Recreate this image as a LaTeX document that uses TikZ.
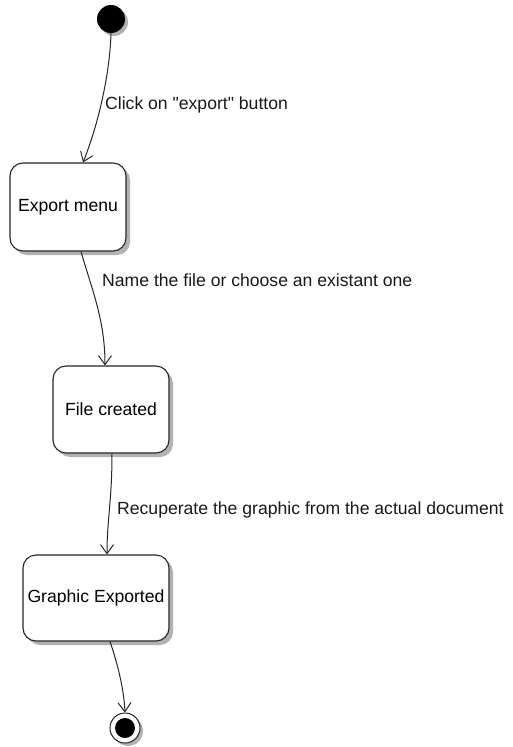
\documentclass[tikz,border=0pt]{standalone}
\usepackage{fontspec}
\setmainfont{Liberation Sans}[Ligatures=TeXOff]
\usetikzlibrary{arrows.meta,shadows,calc}
\begin{document}
\begin{tikzpicture}[x=1pt,y=-1pt,
  every node/.style={font=\fontsize{17.6}{20}\selectfont},
  shad/.style={drop shadow={shadow xshift=4pt,shadow yshift=-4pt,fill=black!30,opacity=1}},
  state/.style={draw=black!85, line width=1.1pt, rounded corners=13pt, fill=white, inner sep=1pt, shad},
  conn/.style={draw=black!85, line width=1pt, -{Straight Barb[length=9pt,width=13pt,line width=1pt]}},
  lbl/.style={anchor=west, inner sep=0pt, text=black!90}]
\useasboundingbox (0,0) rectangle (512,747);
% initial state
\node[circle, fill=black, minimum size=28pt, inner sep=0pt,
  drop shadow={shadow xshift=3pt,shadow yshift=-3pt,fill=black!30,opacity=1}] (start) at (111,19) {};
% states
\node[state, minimum width=116pt, minimum height=88pt] (em) at (68,207) {Export menu};
\node[state, minimum width=116pt, minimum height=87pt] (fc) at (111,409.5) {File created};
\node[state, minimum width=146pt, minimum height=86pt] (ge) at (96,598) {Graphic Exported};
% final state
\node[circle, draw=black!85, line width=1pt, fill=white, minimum size=30pt, inner sep=0pt,
  drop shadow={shadow xshift=3pt,shadow yshift=-3pt,fill=black!30,opacity=1}] (end) at (125,728) {};
\node[circle, fill=black, minimum size=20pt, inner sep=0pt] (endin) at (end.center) {};
% transitions
\coordinate (e1) at ([xshift=15pt]em.north);
\draw[conn] (start.south) .. controls (110,70) and (100,120) .. (e1);
\coordinate (s2) at ([xshift=13pt]em.south);
\coordinate (e2) at ([xshift=-6pt]fc.north);
\draw[conn] (s2) .. controls (92,290) and (105,320) .. (e2);
\coordinate (s3) at ([xshift=1pt]fc.south);
\coordinate (e3) at ([xshift=11pt]ge.north);
\draw[conn] (s3) .. controls (112,500) and (107,520) .. (e3);
\coordinate (s4) at ([xshift=14pt]ge.south);
\draw[conn] (s4) .. controls (118,665) and (124,690) .. (end.north);
% labels
\node[lbl] (l1) at (105,105) {Click on "export" button};
\node[lbl] (l2) at (102,280) {Name the file or choose an existant one};
\node[lbl] (l3) at (117,510) {Recuperate the graphic from the actual document};
\end{tikzpicture}
\end{document}
